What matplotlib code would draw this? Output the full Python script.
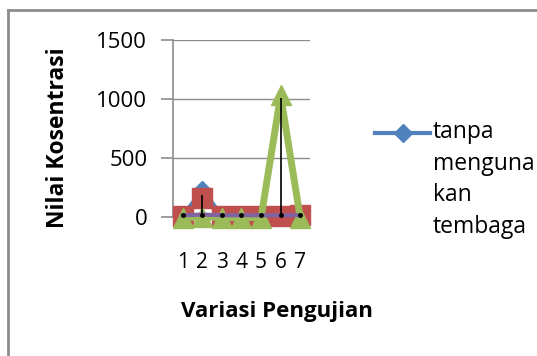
import numpy as np
import matplotlib.pyplot as plt
from matplotlib.lines import Line2D

# data per variasi pengujian
kategori = ['1', '2', '3', '4', '5', '6', '7']
tanpa_tembaga = [10, 230, 10, 10, 10, 10, 10]
seri_merah = [5, 160, 10, 5, 5, 5, 15]
seri_hijau = [-5, 0, -5, -5, -5, 1030, -5]
seri_ungu = [15, 20, 15, 15, 15, 15, 15]
garis_hitam = [0, 190, 0, 0, 0, 1010, 0]
label_legenda = 'tanpa\nmenguna\nkan\ntembaga'

plt.rcParams['font.family'] = ['Open Sans', 'DejaVu Sans']

fig = plt.figure(figsize=(5.37, 3.56), dpi=100)
ax = fig.add_axes([173 / 537, 1 - 217 / 356, 137 / 537, 177 / 356])

x = np.arange(len(kategori))

ax.plot(x, tanpa_tembaga, color='#4F81BD', lw=3, marker='D', ms=9,
        zorder=3, clip_on=False)
ax.plot(x, seri_merah, color='#C0504D', lw=3, marker='s', ms=14.5,
        zorder=4, clip_on=False)
ax.plot(x, seri_hijau, color='#9BBB59', lw=5, marker='^', ms=14,
        zorder=5, clip_on=False)
ax.plot(x, seri_ungu, color='#8064A2', lw=3, marker='o', ms=2.5,
        mfc='black', mec='black', zorder=6, clip_on=False)
ax.vlines(x, 0, garis_hitam, colors='black', lw=1.2, zorder=7)

ax.set_xlim(-0.5, len(kategori) - 0.5)
ax.set_ylim(0, 1500)
ax.set_yticks([0, 500, 1000, 1500])
ax.set_xticks(x)
ax.set_xticklabels(kategori)
ax.yaxis.grid(True, color='#8c8c8c', lw=1)
ax.set_axisbelow(True)

for s in ['top', 'right', 'bottom']:
    ax.spines[s].set_visible(False)
ax.spines['left'].set_color('#8c8c8c')
ax.spines['left'].set_linewidth(1.2)

ax.tick_params(axis='y', length=8.5, color='#8c8c8c', width=1.2, pad=10,
               labelsize=16)
ax.tick_params(axis='x', length=0, pad=25, labelsize=15)

# judul sumbu
fig.text(58 / 537, 1 - 138 / 356, 'Nilai Kosentrasi', rotation=90,
         ha='center', va='center', fontsize=16.5, fontweight='bold')
fig.text(277 / 537, 1 - 311 / 356, 'Variasi Pengujian',
         ha='center', va='center', fontsize=16, fontweight='bold')

# legenda
fig.add_artist(Line2D([375 / 537, 430 / 537], [1 - 133 / 356] * 2,
                      transform=fig.transFigure, color='#4F81BD', lw=3))
fig.add_artist(Line2D([403 / 537], [1 - 133 / 356], marker='D', ms=9,
                      color='#4F81BD', transform=fig.transFigure))
fig.text(433 / 537, 1 - 120 / 356, label_legenda, ha='left', va='top',
         fontsize=16.5, linespacing=1.42)

# bingkai grafik
fig.add_artist(Line2D([8 / 537, 8 / 537], [0, 1 - 10 / 356],
                      transform=fig.transFigure, color='#8c8c8c', lw=2))
fig.add_artist(Line2D([8 / 537, 1], [1 - 10 / 356, 1 - 10 / 356],
                      transform=fig.transFigure, color='#8c8c8c', lw=2))

fig.savefig('out.png', dpi=100)
